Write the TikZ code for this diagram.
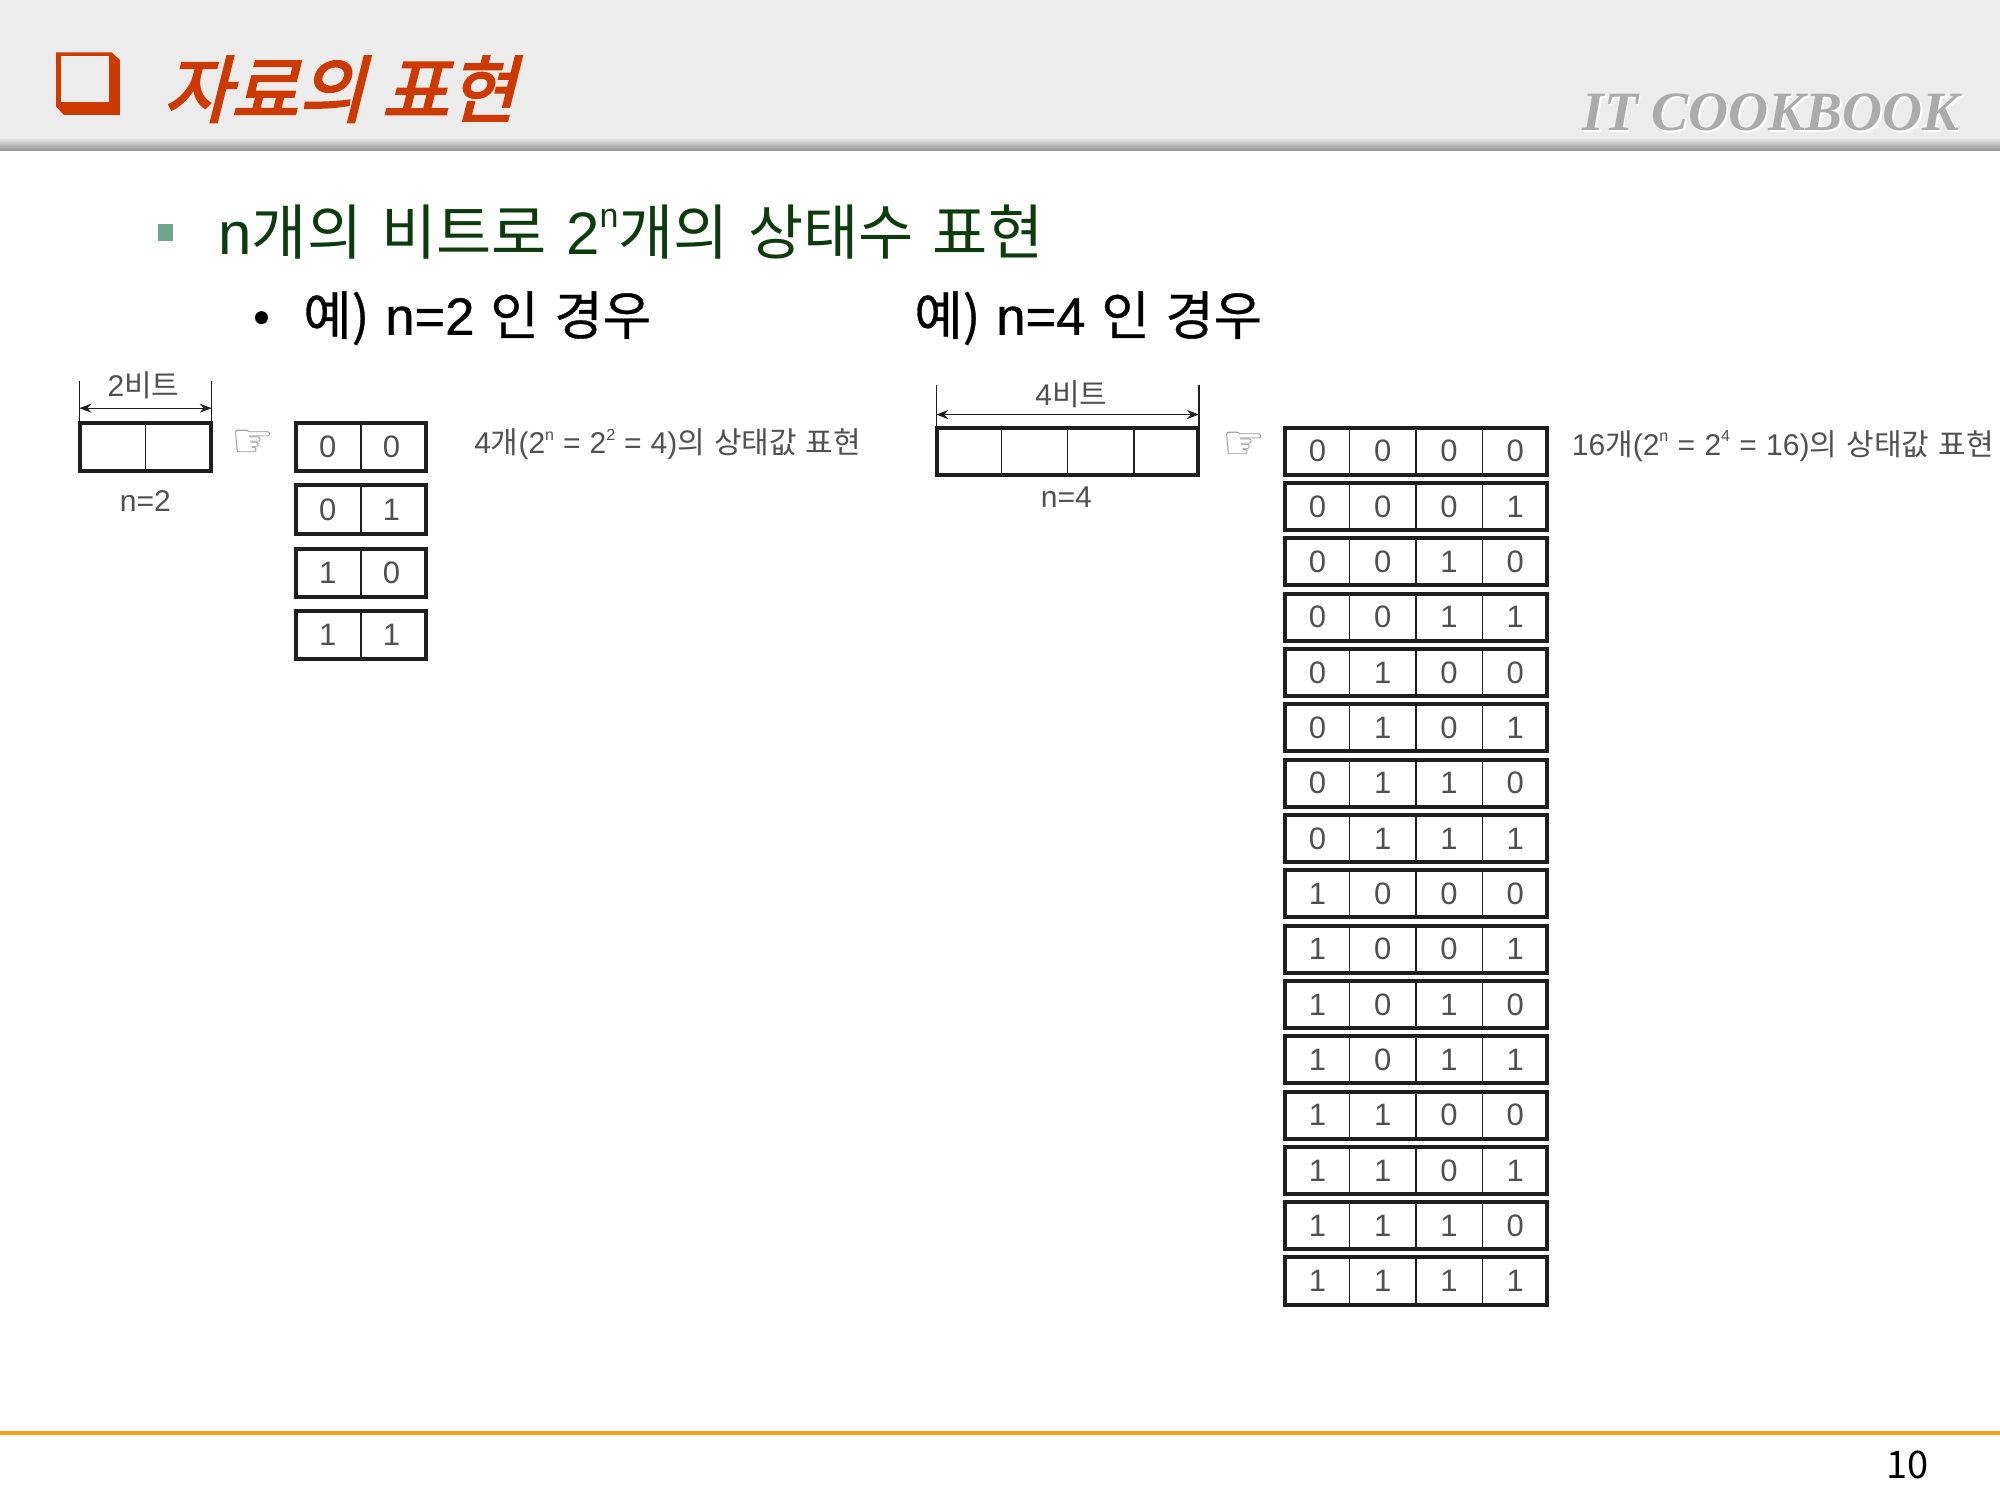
\documentclass[tikz,border=0pt]{standalone}
\usepackage{fontspec}
\usetikzlibrary{arrows.meta}
\setmainfont{Noto Sans CJK KR}
\newfontfamily\lib{Liberation Sans}
\newfontfamily\krtitle[FakeSlant=0.25,FakeBold=3]{Noto Sans CJK KR}
\newfontfamily\krmed[FakeBold=0.6]{Noto Sans CJK KR}
\newfontfamily\libmed[FakeBold=0.6]{Liberation Sans}
\newfontfamily\itbi{Liberation Serif Bold Italic}
\newfontfamily\symb{DejaVu Sans}
\definecolor{hdr}{HTML}{ECECEC}
\definecolor{ttl}{HTML}{CC3A00}
\definecolor{sub}{HTML}{0C3C0C}
\definecolor{lbl}{HTML}{505050}
\definecolor{oran}{HTML}{F7A11A}
\definecolor{sq}{HTML}{6FA58C}
\definecolor{ink}{HTML}{1E1E1E}
\tikzset{
  digit/.style={font=\lib\fontsize{15.5}{15.5}\selectfont,text=lbl,inner sep=0pt},
  cap2/.style={font=\fontsize{15}{15}\selectfont,text=lbl,inner sep=0pt},
  dim/.style={{Stealth[length=6pt,width=4.5pt]}-{Stealth[length=6pt,width=4.5pt]},line width=0.6pt,draw=ink},
  ticks/.style={line width=0.6pt,draw=ink},
  divider/.style={line width=0.65pt,draw=ink},
  hand/.style={font=\symb\fontsize{24}{24}\selectfont,text=black!42,inner sep=0pt},
  cellframe/.style={draw=ink,line width=2pt,fill=white,inner sep=0pt}
}
\def\ux{0.63776pt}
\newcommand{\cellbox}[6]{% name, x1, y1, x2, y2, ncells (outer extents)
  \node[cellframe,minimum width=#4*\ux-#2*\ux-2pt,minimum height=#5*\ux-#3*\ux-2pt] (#1) at ({(#2+#4)/2},{(#3+#5)/2}) {};
  \pgfmathsetmacro{\cw}{(#4-#2)/#6}
  \foreach \k in {2,...,#6}{
    \pgfmathsetmacro{\dx}{#2+(\k-1)*\cw}
    \draw[divider] (\dx,#3) -- (\dx,#5);
  }
}
\newcommand{\supn}[1]{\raisebox{0.45em}{\lib\fontsize{8}{8}\selectfont #1}}
\begin{document}
\begin{tikzpicture}[x=0.63776pt,y=-0.63776pt]
\useasboundingbox (0,0) rectangle (1568,1176);
\fill[white] (0,0) rectangle (1568,1176);
% header
\fill[hdr] (0,0) rectangle (1568,108);
\shade[top color=hdr,bottom color=black!42] (0,108) rectangle (1568,118);
% checkbox
\fill[ttl] (44,41) -- (87.5,41) -- (94,47) -- (94,90) -- (50,90) -- (44,83.6) -- cycle;
\fill[hdr] (47.5,44) rectangle (85.5,80);
\node[font=\krtitle\fontsize{36.5}{37}\selectfont,text=ttl,inner sep=0pt,anchor=center] (title) at (266.5,70) {자료의 표현};
\node[font=\itbi\fontsize{27.7}{29}\selectfont,text=white,inner sep=0pt] (itw) at (1390,90) {IT COOKBOOK};
\node[font=\itbi\fontsize{27.7}{29}\selectfont,text=black!33,inner sep=0pt] (it) at (1388.5,88) {IT COOKBOOK};
% bullets
\fill[sq] (124,176) rectangle (136,189);
\node[font=\fontsize{30}{30}\selectfont,text=sub,inner sep=0pt,anchor=west] (s1) at (171,182) {\spaceskip=0.32em{\lib n}개의 비트로 {\lib 2}\raisebox{0.45em}{\lib\fontsize{17}{17}\selectfont n}개의 상태수 표현};
\node[circle,fill=black,inner sep=0pt,minimum size=6.5pt] (b2) at (205,249) {};
\node[font=\krmed\fontsize{26.3}{26}\selectfont,text=black,inner sep=0pt,anchor=west] (s2) at (237.5,249.5) {\spaceskip=0.3em 예) {\libmed n=2} 인 경우};
\node[font=\krmed\fontsize{26.3}{26}\selectfont,text=black,inner sep=0pt,anchor=west] (s3) at (716.5,249.5) {\spaceskip=0.3em 예) {\libmed n=4} 인 경우};
% left
\cellbox{hl}{61}{330}{167}{371}{2}
\coordinate (ltl) at (62.2,298.5); \coordinate (ltr) at (166,298.5);
\coordinate (lal) at (62.2,320); \coordinate (lar) at (166,320);
\draw[ticks] (ltl) -- (ltl |- hl.north);
\draw[ticks] (ltr) -- (ltr |- hl.north);
\draw[dim] (lal) -- (lar);
\node[cap2] (l2b) at (112.5,302) {{\lib 2}비트};
\node[cap2,font=\lib\fontsize{15}{15}\selectfont] (ln) at (114,393) {n=2};
\node[hand] (lh) at (198,347.6) {☞};
\foreach \i/\a/\b/\yc in {1/0/0/350.5,2/0/1/399.5,3/1/0/449,4/1/1/498}{
  \pgfmathsetmacro{\ya}{\yc-20.5}
  \pgfmathsetmacro{\yb}{\yc+20.5}
  \cellbox{lr\i}{230.5}{\ya}{335.6}{\yb}{2}
  \node[digit] (la\i) at (257,\yc) {\a};
  \node[digit] (lb\i) at (307,\yc) {\b};
}
\node[cap2,anchor=west] (lt) at (371.5,348.5) {\spaceskip=0.3em{\lib 4}개{\lib (2}\supn{n} {\lib =} {\lib 2}\supn{2} {\lib =} {\lib 4)}의 상태값 표현};
% right
\cellbox{hr}{733}{334}{941}{374}{4}
\coordinate (rtl) at (734,302); \coordinate (rtr) at (940,302);
\coordinate (ral) at (734,325); \coordinate (rar) at (940,325);
\draw[ticks] (rtl) -- (rtl |- hr.north);
\draw[ticks] (rtr) -- (rtr |- hr.north);
\draw[dim] (ral) -- (rar);
\node[cap2] (r4b) at (840,309) {{\lib 4}비트};
\node[cap2,font=\lib\fontsize{15}{15}\selectfont] (rn) at (836,390) {n=4};
\node[hand] (rh) at (975,349.6) {☞};
\foreach \i/\a/\b/\c/\d in {0/0/0/0/0,1/0/0/0/1,2/0/0/1/0,3/0/0/1/1,4/0/1/0/0,5/0/1/0/1,6/0/1/1/0,7/0/1/1/1,8/1/0/0/0,9/1/0/0/1,10/1/0/1/0,11/1/0/1/1,12/1/1/0/0,13/1/1/0/1,14/1/1/1/0,15/1/1/1/1}{
  \pgfmathsetmacro{\yc}{353.6+\i*43.38}
  \pgfmathsetmacro{\ya}{\yc-20}
  \pgfmathsetmacro{\yb}{\yc+20}
  \cellbox{rr\i}{1006}{\ya}{1214.5}{\yb}{4}
  \node[digit] (ra\i) at (1033,\yc) {\a};
  \node[digit] (rb\i) at (1084,\yc) {\b};
  \node[digit] (rc\i) at (1136,\yc) {\c};
  \node[digit] (rd\i) at (1188,\yc) {\d};
}
\node[cap2,anchor=west] (rt) at (1232,349.5) {\spaceskip=0.31em{\lib 16}개{\lib (2}\supn{n} {\lib =} {\lib 2}\supn{4} {\lib =} {\lib 16)}의 상태값 표현};
% footer
\fill[oran] (0,1122) rectangle (1568,1125);
\node[font=\fontsize{19}{19}\selectfont,text=black,inner sep=0pt] (pg) at (1495.5,1148.5) {10};
\end{tikzpicture}
\end{document}
